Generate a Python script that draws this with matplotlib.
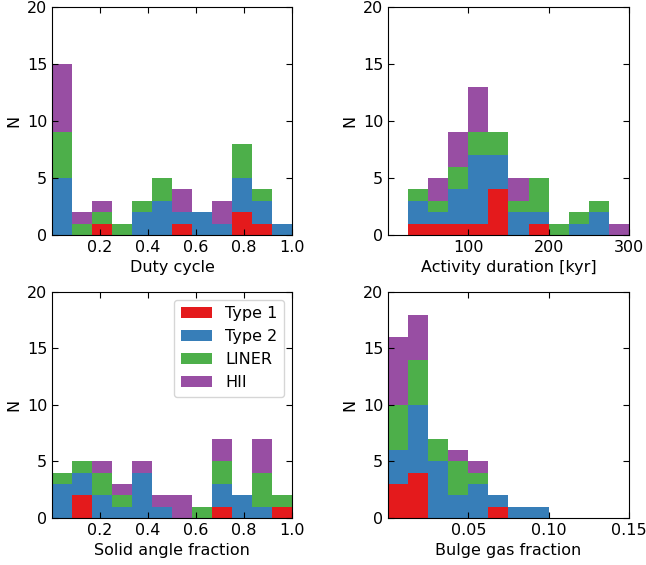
import numpy as np
import matplotlib
matplotlib.use("Agg")
import matplotlib.pyplot as plt

# Stacked histogram counts (per bin)
labels = ["Type 1", "Type 2", "LINER", "HII"]
colors = ["#e41a1c", "#377eb8", "#4daf4a", "#984ea3"]

# Duty cycle: 12 bins in [0, 1]
duty_bins = np.linspace(0, 1, 13)
duty_type1 = [0, 0, 1, 0, 0, 0, 1, 0, 0, 2, 1, 0]
duty_type2 = [5, 0, 0, 0, 2, 3, 1, 2, 1, 3, 2, 1]
duty_liner = [4, 1, 1, 1, 1, 2, 0, 0, 0, 3, 1, 0]
duty_hii = [6, 1, 1, 0, 0, 0, 2, 0, 2, 0, 0, 0]

# Activity duration [kyr]: bins of 25 from 25 to 300
act_bins = np.arange(25, 301, 25)
act_type1 = [1, 1, 1, 1, 4, 0, 1, 0, 0, 0, 0]
act_type2 = [2, 1, 3, 6, 3, 2, 1, 0, 1, 2, 0]
act_liner = [1, 1, 2, 2, 2, 1, 3, 1, 1, 1, 0]
act_hii = [0, 2, 3, 4, 0, 2, 0, 0, 0, 0, 1]

# Solid angle fraction: 12 bins in [0, 1]
solid_bins = np.linspace(0, 1, 13)
solid_type1 = [0, 2, 0, 0, 0, 0, 0, 0, 1, 0, 0, 1]
solid_type2 = [3, 2, 2, 1, 4, 1, 0, 0, 2, 2, 1, 0]
solid_liner = [1, 1, 2, 1, 0, 0, 0, 1, 2, 0, 3, 1]
solid_hii = [0, 0, 1, 1, 1, 1, 2, 0, 2, 0, 3, 0]

# Bulge gas fraction: bins of 0.0125 in [0, 0.15]
gas_bins = np.linspace(0, 0.15, 13)
gas_type1 = [3, 4, 0, 0, 0, 1, 0, 0, 0, 0, 0, 0]
gas_type2 = [3, 6, 5, 2, 3, 1, 1, 1, 0, 0, 0, 0]
gas_liner = [4, 4, 2, 3, 1, 0, 0, 0, 0, 0, 0, 0]
gas_hii = [6, 4, 0, 1, 1, 0, 0, 0, 0, 0, 0, 0]

panels = [
    (duty_bins, [duty_type1, duty_type2, duty_liner, duty_hii], "Duty cycle",
     (0, 1), [0.2, 0.4, 0.6, 0.8, 1.0], ["0.2", "0.4", "0.6", "0.8", "1.0"]),
    (act_bins, [act_type1, act_type2, act_liner, act_hii], "Activity duration [kyr]",
     (0, 300), [100, 200, 300], ["100", "200", "300"]),
    (solid_bins, [solid_type1, solid_type2, solid_liner, solid_hii], "Solid angle fraction",
     (0, 1), [0.2, 0.4, 0.6, 0.8, 1.0], ["0.2", "0.4", "0.6", "0.8", "1.0"]),
    (gas_bins, [gas_type1, gas_type2, gas_liner, gas_hii], "Bulge gas fraction",
     (0, 0.15), [0.05, 0.10, 0.15], ["0.05", "0.10", "0.15"]),
]

plt.rcParams['font.size'] = 11.5

fig = plt.figure(figsize=(6.46, 5.65), dpi=100)
positions = [
    [0.0805, 0.584, 0.3715, 0.4035],
    [0.6006, 0.584, 0.373, 0.4035],
    [0.0805, 0.0832, 0.3715, 0.400],
    [0.6006, 0.0832, 0.373, 0.400],
]

for i, (bins, counts, xlabel, xlim, xt, xtl) in enumerate(panels):
    ax = fig.add_axes(positions[i])
    centers = 0.5 * (bins[:-1] + bins[1:])
    ax.hist([centers] * 4, bins=bins, weights=counts, stacked=True,
            histtype='stepfilled', color=colors, label=labels)
    ax.set_xlim(*xlim)
    ax.set_ylim(0, 20)
    ax.set_xticks(xt)
    ax.set_xticklabels(xtl)
    ax.set_yticks([0, 5, 10, 15, 20])
    ax.tick_params(direction='in', top=True, right=True, length=4)
    ax.set_xlabel(xlabel)
    ax.set_ylabel("N")
    if i == 2:
        handles, lbls = ax.get_legend_handles_labels()
        # put Type 1 first, as in the original
        order = [lbls.index(l) for l in labels]
        ax.legend([handles[k] for k in order], labels, loc='upper right')

fig.savefig("out.png", dpi=100)
